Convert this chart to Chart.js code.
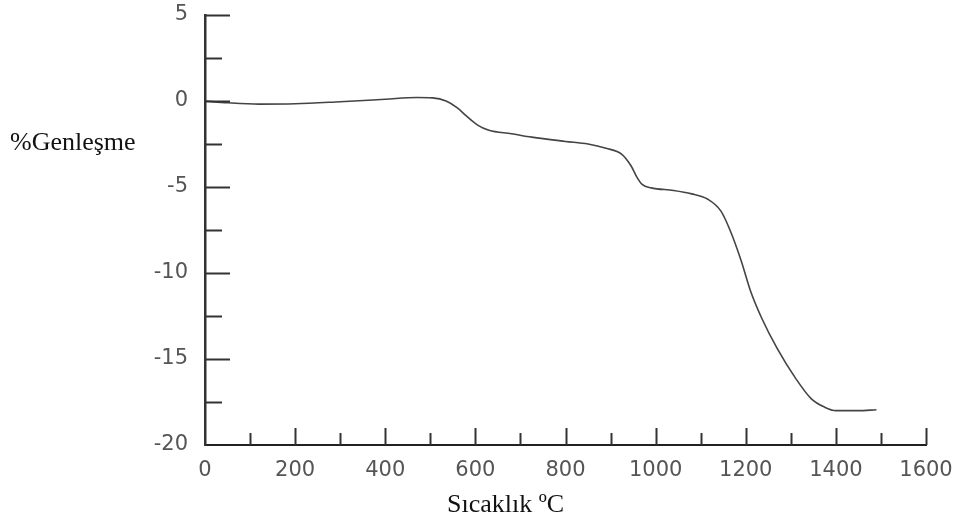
<!DOCTYPE html>
<html lang="tr">
<head>
  <meta charset="UTF-8">
  <title>Genleşme - Sıcaklık</title>
  <script src="https://cdn.jsdelivr.net/npm/chart.js"></script>
  <style>
    body { margin: 0; background: #fff; }
    #kutu { position: relative; width: 966px; height: 520px; }
    .baslik { position: absolute; font-family: "Liberation Serif", "Times New Roman", serif; font-size: 26px; color: #111; white-space: nowrap; line-height: 1; }
    #yBaslik { left: 10px; top: 129px; }
    #xBaslik { left: 447px; top: 491px; }
  </style>
</head>
<body>

<div id="kutu">
  <canvas id="grafik" width="966" height="520"></canvas>
  <div class="baslik" id="yBaslik">%Genleşme</div>
  <div class="baslik" id="xBaslik">Sıcaklık ºC</div>
</div>

<script>
  // Sıcaklık (ºC) ve % genleşme değerleri
  const sicaklik = [0, 50, 120, 200, 300, 400, 470, 505, 535, 560, 580, 605, 630, 680, 725, 800, 850, 890, 925, 945, 960, 970, 990, 1040, 1080, 1115, 1145, 1165, 1190, 1210, 1235, 1270, 1310, 1345, 1375, 1400, 1450, 1490];
  const genlesme = [0, -0.1, -0.18, -0.16, -0.04, 0.1, 0.2, 0.18, 0, -0.4, -0.87, -1.4, -1.7, -1.9, -2.1, -2.35, -2.5, -2.75, -3.1, -3.75, -4.5, -4.85, -5.05, -5.2, -5.4, -5.7, -6.4, -7.5, -9.3, -11.0, -12.6, -14.4, -16.1, -17.3, -17.8, -18.0, -18.0, -17.95];

  const xMin = 0, xMax = 1600, xAdim = 100, xEtiketAdim = 200;
  const yMin = -20, yMax = 5, yAdim = 2.5, yEtiketAdim = 5;

  const noktalar = sicaklik.map((t, i) => ({ x: t, y: genlesme[i] }));

  // eksen çizgilerinin içine doğru tik işaretleri
  const icTikler = {
    id: 'icTikler',
    afterDraw(chart) {
      const ctx = chart.ctx;
      const xs = chart.scales.x, ys = chart.scales.y;
      const alt = chart.chartArea.bottom, sol = chart.chartArea.left;
      ctx.save();
      ctx.strokeStyle = '#333';
      ctx.lineWidth = 2;
      xs.ticks.forEach(t => {
        if (t.value === xMin) return;
        const px = Math.round(xs.getPixelForValue(t.value)) + 0.5;
        const buyuk = t.value % xEtiketAdim === 0;
        ctx.beginPath();
        ctx.moveTo(px, alt);
        ctx.lineTo(px, alt - (buyuk ? 17 : 12));
        ctx.stroke();
      });
      ys.ticks.forEach(t => {
        if (t.value === yMin) return;
        const py = Math.round(ys.getPixelForValue(t.value)) + 0.5;
        const buyuk = t.value % yEtiketAdim === 0;
        ctx.beginPath();
        ctx.moveTo(sol, py);
        ctx.lineTo(sol + (buyuk ? 25 : 17), py);
        ctx.stroke();
      });
      ctx.restore();
    }
  };

  const etiketFont = { family: 'DejaVu Sans', size: 21 };

  new Chart(document.getElementById('grafik'), {
    type: 'line',
    data: {
      datasets: [{
        data: noktalar,
        borderColor: '#444',
        borderWidth: 1.6,
        pointRadius: 0,
        fill: false,
        cubicInterpolationMode: 'monotone'
      }]
    },
    options: {
      responsive: false,
      animation: false,
      layout: { padding: { left: 0, right: 40, top: 15, bottom: 0 } },
      plugins: { legend: { display: false }, tooltip: { enabled: false } },
      scales: {
        x: {
          type: 'linear',
          min: xMin, max: xMax,
          grid: { display: false, drawTicks: false },
          border: { display: true, color: '#222', width: 2 },
          ticks: {
            stepSize: xAdim,
            autoSkip: false,
            maxRotation: 0,
            padding: 13,
            color: '#555',
            font: etiketFont,
            callback: v => (v % xEtiketAdim === 0 ? String(v) : '')
          },
          afterFit: s => { s.height = 75; }
        },
        y: {
          min: yMin, max: yMax,
          grid: { display: false, drawTicks: false },
          border: { display: true, color: '#333', width: 2.5 },
          ticks: {
            stepSize: yAdim,
            autoSkip: false,
            padding: 17,
            color: '#555',
            font: etiketFont,
            callback: v => (v % yEtiketAdim === 0 ? String(v) : '')
          },
          afterFit: s => { s.width = 205; s.paddingTop = 0; s.paddingBottom = 0; }
        }
      }
    },
    plugins: [icTikler]
  });
</script>

</body>
</html>
